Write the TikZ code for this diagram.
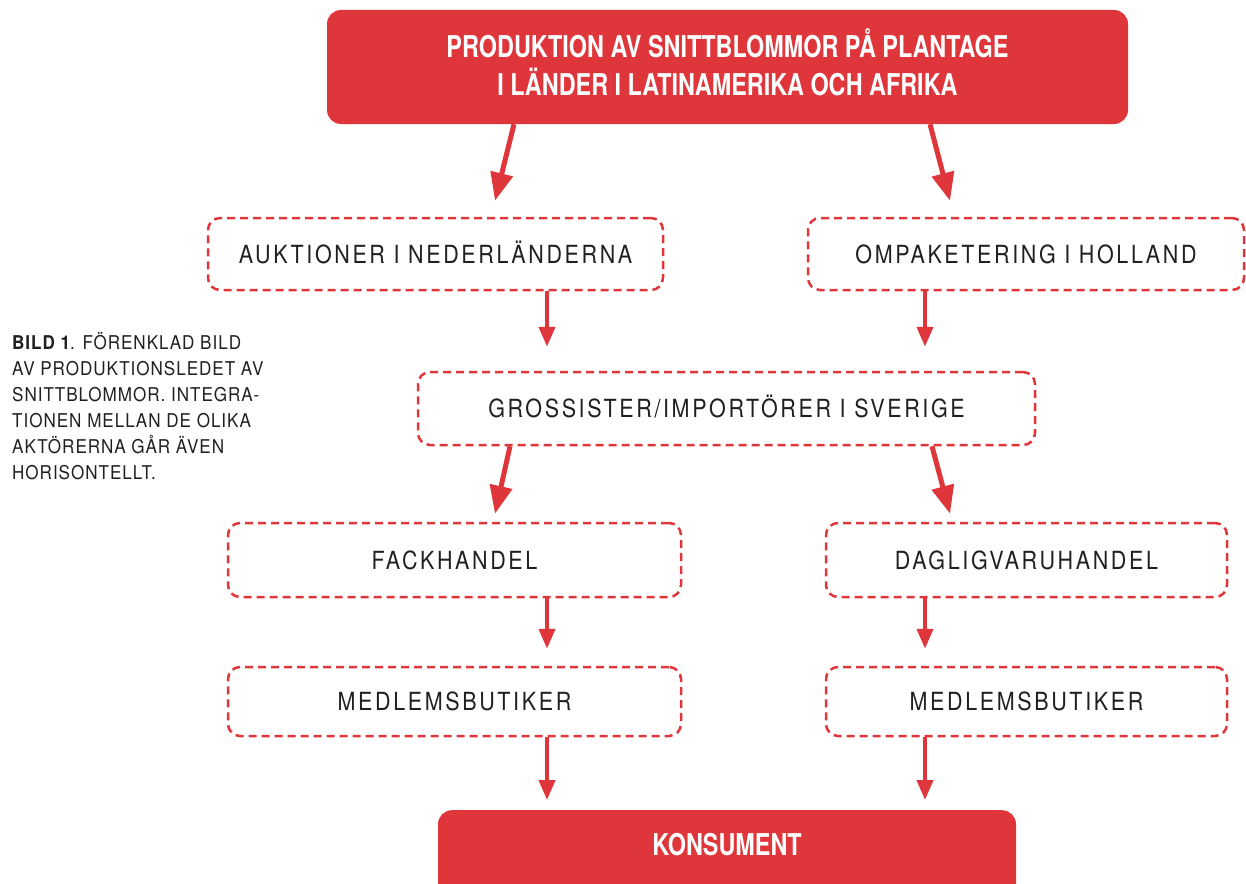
\documentclass[tikz,border=0pt]{standalone}
\usepackage{fontspec}
\setmainfont{TeX Gyre Heros}
\newfontfamily\nodefont[FakeStretch=0.86,LetterSpace=10.5]{TeX Gyre Heros}
\newfontfamily\titlefont[FakeStretch=0.78]{TeX Gyre Heros}
\newfontfamily\capfont[FakeStretch=0.9,LetterSpace=5]{TeX Gyre Heros}
\usetikzlibrary{arrows.meta,calc}
\definecolor{rd}{HTML}{DF363B}
\definecolor{tx}{HTML}{231F20}
\tikzset{
  dbox/.style={draw=rd, line width=2.5pt, dash pattern=on 8pt off 5pt, rounded corners=12pt,
    text=tx, font=\nodefont\fontsize{25}{30}\selectfont, text height=18pt, text depth=0pt, inner sep=0pt},
  rbox/.style={fill=rd, rounded corners=14pt, text=white, inner sep=0pt,
    font=\titlefont\bfseries\fontsize{30}{38}\selectfont},
  arr/.style={draw=rd, line width=4pt, -{Triangle[width=16pt,length=20pt]}},
  arrbig/.style={draw=rd, line width=5pt, -{Triangle[width=22pt,length=28pt]}}
}
\begin{document}
\begin{tikzpicture}[x=1pt,y=-1pt]
\useasboundingbox (0,0) rectangle (1246,883);
\node[rbox, minimum width=801pt, minimum height=114pt, align=center, text depth=10pt] (top) at (727.5,67)
  {PRODUKTION AV SNITTBLOMMOR PÅ PLANTAGE\\I LÄNDER I LATINAMERIKA OCH AFRIKA};
\node[dbox, minimum width=455pt, minimum height=72pt] (auk) at (435.5,254) {AUKTIONER I NEDERLÄNDERNA};
\node[dbox, minimum width=436pt, minimum height=72pt] (omp) at (1026,254) {OMPAKETERING I HOLLAND};
\node[dbox, minimum width=617pt, minimum height=73pt] (gro) at (726.5,408.5) {GROSSISTER/IMPORTÖRER I SVERIGE};
\node[dbox, minimum width=453pt, minimum height=74pt] (fack) at (454.5,560) {FACKHANDEL};
\node[dbox, minimum width=401pt, minimum height=74pt] (dag) at (1026.5,560) {DAGLIGVARUHANDEL};
\node[dbox, minimum width=453pt, minimum height=69pt] (med1) at (454.5,701.5) {MEDLEMSBUTIKER};
\node[dbox, minimum width=401pt, minimum height=69pt] (med2) at (1026.5,701.5) {MEDLEMSBUTIKER};
\node[rbox, anchor=north, minimum width=578pt, text height=21pt, text depth=25pt, inner ysep=24.5pt] (kons) at (727,810) {KONSUMENT};
\node[anchor=north west, align=left, inner sep=0pt, text=tx, font=\capfont\fontsize{19}{26}\selectfont] (cap) at (12,332)
  {{\bfseries BILD 1}. FÖRENKLAD BILD\\AV PRODUKTIONSLEDET AV\\SNITTBLOMMOR. INTEGRA-\\TIONEN MELLAN DE OLIKA\\AKTÖRERNA GÅR ÄVEN\\HORISONTELLT.};
% arrows
\draw[arrbig] ([xshift=-213.5pt]top.south) -- ($(auk.north)+(59.5,-16)$);
\draw[arrbig] ([xshift=202.5pt]top.south) -- ($(omp.north)+(-76,-16)$);
\draw[arr] ($(auk.south)+(111.5,0)$) -- ($(gro.north)+(-179.5,-24)$);
\draw[arr] ($(omp.south)+(-101,0)$) -- ($(gro.north)+(198.5,-24)$);
\draw[arrbig] ($(gro.south)+(-216.5,0)$) -- ($(fack.north)+(40.5,-8)$);
\draw[arrbig] ($(gro.south)+(205.5,0)$) -- ($(dag.north)+(-76.5,-8)$);
\draw[arr] ($(fack.south)+(92.5,0)$) -- ($(med1.north)+(92.5,-17)$);
\draw[arr] ($(dag.south)+(-101.5,0)$) -- ($(med2.north)+(-101.5,-17)$);
\draw[arr] ($(med1.south)+(92.5,0)$) -- ($(kons.north)+(-180,-10)$);
\draw[arr] ($(med2.south)+(-101.5,0)$) -- ($(kons.north)+(198,-10)$);
\end{tikzpicture}
\end{document}
